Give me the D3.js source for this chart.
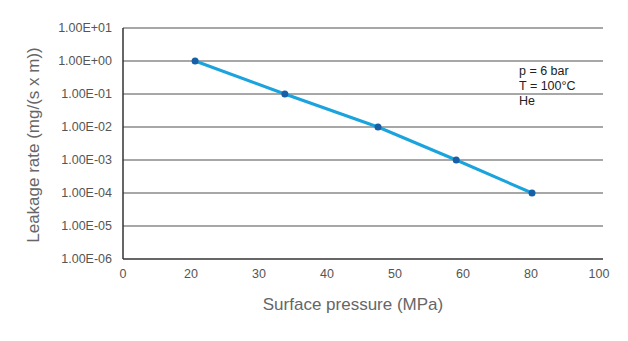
<!DOCTYPE html>
<html>
<head>
<meta charset="utf-8">
<script src="https://cdn.jsdelivr.net/npm/d3@7"></script>
<style>
  body { margin: 0; background: #fff; }
  text { font-family: "Liberation Sans", Arial, sans-serif; }
</style>
</head>
<body>
<div id="chart"></div>
<script>
// leakage vs surface pressure
const pressure = [20.6, 33.8, 47.5, 59, 80.3];
const leakage = [1, 0.1, 0.01, 0.001, 0.0001];

const xTicks = [0, 20, 30, 40, 50, 60, 80, 100];
const yTicks = [1e1, 1e0, 1e-1, 1e-2, 1e-3, 1e-4, 1e-5, 1e-6];
const yTickLabels = ["1.00E+01", "1.00E+00", "1.00E-01", "1.00E-02",
                     "1.00E-03", "1.00E-04", "1.00E-05", "1.00E-06"];
const notes = ["p = 6 bar", "T = 100\u00b0C", "He"];

const W = 628, H = 341;
const plot = {left: 123, right: 603, top: 28, bottom: 259};

const svg = d3.select("#chart").append("svg")
    .attr("width", W)
    .attr("height", H);

// x axis labels are evenly spaced even though the values are not
const step = (599 - plot.left) / (xTicks.length - 1);
const x = d3.scaleLinear()
    .domain(xTicks)
    .range(xTicks.map((d, i) => plot.left + i * step));

const y = d3.scaleLog()
    .domain([1e-6, 1e1])
    .range([plot.bottom, plot.top]);

// gridlines
svg.append("g")
  .selectAll("line")
  .data(yTicks.filter(d => d > 1e-6))
  .join("line")
    .attr("x1", plot.left)
    .attr("x2", plot.right)
    .attr("y1", d => y(d))
    .attr("y2", d => y(d))
    .attr("stroke", "#8a8a8a")
    .attr("stroke-width", 1.5);

// y tick labels
svg.append("g")
  .selectAll("text")
  .data(yTicks)
  .join("text")
    .attr("x", 112)
    .attr("y", d => y(d))
    .attr("dy", "0.35em")
    .attr("text-anchor", "end")
    .attr("font-size", 12.5)
    .attr("fill", "#555")
    .text((d, i) => yTickLabels[i]);

// x tick labels
svg.append("g")
  .selectAll("text")
  .data(xTicks)
  .join("text")
    .attr("x", d => x(d))
    .attr("y", 278)
    .attr("text-anchor", "middle")
    .attr("font-size", 12.5)
    .attr("fill", "#555")
    .text(d => d);

// axes lines
svg.append("line")
    .attr("x1", plot.left).attr("x2", plot.left)
    .attr("y1", plot.top).attr("y2", plot.bottom)
    .attr("stroke", "#333").attr("stroke-width", 1.5);
svg.append("line")
    .attr("x1", plot.left).attr("x2", plot.right)
    .attr("y1", plot.bottom).attr("y2", plot.bottom)
    .attr("stroke", "#333").attr("stroke-width", 1.5);

const pts = pressure.map((p, i) => [p, leakage[i]]);

svg.append("path")
    .datum(pts)
    .attr("fill", "none")
    .attr("stroke", "#1ba3dd")
    .attr("stroke-width", 3)
    .attr("d", d3.line().x(d => x(d[0])).y(d => y(d[1])));

svg.append("g")
  .selectAll("circle")
  .data(pts)
  .join("circle")
    .attr("cx", d => x(d[0]))
    .attr("cy", d => y(d[1]))
    .attr("r", 3.5)
    .attr("fill", "#1760a8");

// conditions
svg.append("g")
  .selectAll("text")
  .data(notes)
  .join("text")
    .attr("x", 519)
    .attr("y", (d, i) => 75 + i * 15)
    .attr("font-size", 12.5)
    .attr("fill", "#222")
    .text(d => d);

// axis titles
svg.append("text")
    .attr("x", 353)
    .attr("y", 310)
    .attr("text-anchor", "middle")
    .attr("font-size", 17)
    .attr("fill", "#666")
    .text("Surface pressure (MPa)");

svg.append("text")
    .attr("transform", "translate(39,145) rotate(-90)")
    .attr("text-anchor", "middle")
    .attr("font-size", 17)
    .attr("fill", "#666")
    .text("Leakage rate (mg/(s x m))");
</script>
</body>
</html>
